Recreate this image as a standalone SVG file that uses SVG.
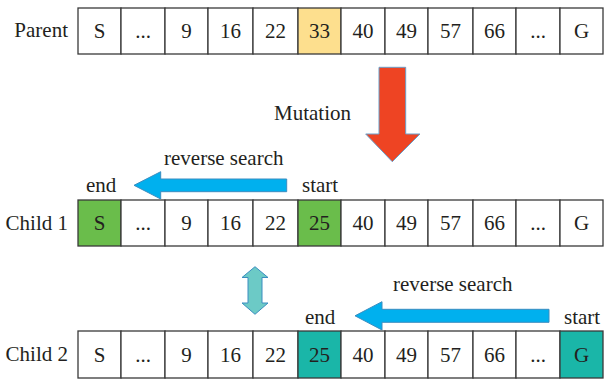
<svg xmlns="http://www.w3.org/2000/svg" width="604" height="381" viewBox="0 0 604 381">
<style>
text{font-family:"Liberation Serif","Times New Roman",serif;font-size:21px;fill:#231f20}
.c{text-anchor:middle}
.cell{fill:#fff;stroke:#3a3a3a;stroke-width:1.3}
.yel{fill:#fddf8e}
.grn{fill:#6abd4b}
.teal{fill:#1ab6a8}
.red{fill:#ee4423;stroke:#6a9ec8;stroke-width:1}
.blue{fill:#00b0ee;stroke:#3a8dc0;stroke-width:1}
.dbl{fill:#6ccac6;stroke:#3a8dc0;stroke-width:1}
</style>
<rect width="604" height="381" fill="#fff"/>

<g id="parent">
<text x="68" y="37" text-anchor="end">Parent</text>
<rect class="cell" x="78" y="8" width="43" height="46"/>
<rect class="cell" x="121" y="8" width="44" height="46"/>
<rect class="cell" x="165" y="8" width="43" height="46"/>
<rect class="cell" x="208" y="8" width="45" height="46"/>
<rect class="cell" x="253" y="8" width="45" height="46"/>
<rect class="cell yel" x="298" y="8" width="43" height="46"/>
<rect class="cell" x="341" y="8" width="44" height="46"/>
<rect class="cell" x="385" y="8" width="43" height="46"/>
<rect class="cell" x="428" y="8" width="45" height="46"/>
<rect class="cell" x="473" y="8" width="43" height="46"/>
<rect class="cell" x="516" y="8" width="44" height="46"/>
<rect class="cell" x="560" y="8" width="43" height="46"/>
<text class="c" x="99.5" y="38">S</text>
<text class="c" x="143" y="38">...</text>
<text class="c" x="186.5" y="38">9</text>
<text class="c" x="230.5" y="38">16</text>
<text class="c" x="275.5" y="38">22</text>
<text class="c" x="319.5" y="38">33</text>
<text class="c" x="363" y="38">40</text>
<text class="c" x="406.5" y="38">49</text>
<text class="c" x="450.5" y="38">57</text>
<text class="c" x="494.5" y="38">66</text>
<text class="c" x="538" y="38">...</text>
<text class="c" x="581.5" y="38">G</text>
</g>

<g id="child1">
<text x="68" y="230" text-anchor="end">Child 1</text>
<rect class="cell grn" x="78" y="200" width="43" height="46"/>
<rect class="cell" x="121" y="200" width="44" height="46"/>
<rect class="cell" x="165" y="200" width="43" height="46"/>
<rect class="cell" x="208" y="200" width="45" height="46"/>
<rect class="cell" x="253" y="200" width="45" height="46"/>
<rect class="cell grn" x="298" y="200" width="43" height="46"/>
<rect class="cell" x="341" y="200" width="44" height="46"/>
<rect class="cell" x="385" y="200" width="43" height="46"/>
<rect class="cell" x="428" y="200" width="45" height="46"/>
<rect class="cell" x="473" y="200" width="43" height="46"/>
<rect class="cell" x="516" y="200" width="44" height="46"/>
<rect class="cell" x="560" y="200" width="43" height="46"/>
<text class="c" x="99.5" y="230">S</text>
<text class="c" x="143" y="230">...</text>
<text class="c" x="186.5" y="230">9</text>
<text class="c" x="230.5" y="230">16</text>
<text class="c" x="275.5" y="230">22</text>
<text class="c" x="319.5" y="230">25</text>
<text class="c" x="363" y="230">40</text>
<text class="c" x="406.5" y="230">49</text>
<text class="c" x="450.5" y="230">57</text>
<text class="c" x="494.5" y="230">66</text>
<text class="c" x="538" y="230">...</text>
<text class="c" x="581.5" y="230">G</text>
</g>

<g id="child2">
<text x="68" y="361" text-anchor="end">Child 2</text>
<rect class="cell" x="78" y="331" width="43" height="47"/>
<rect class="cell" x="121" y="331" width="44" height="47"/>
<rect class="cell" x="165" y="331" width="43" height="47"/>
<rect class="cell" x="208" y="331" width="45" height="47"/>
<rect class="cell" x="253" y="331" width="45" height="47"/>
<rect class="cell teal" x="298" y="331" width="43" height="47"/>
<rect class="cell" x="341" y="331" width="44" height="47"/>
<rect class="cell" x="385" y="331" width="43" height="47"/>
<rect class="cell" x="428" y="331" width="45" height="47"/>
<rect class="cell" x="473" y="331" width="43" height="47"/>
<rect class="cell" x="516" y="331" width="44" height="47"/>
<rect class="cell teal" x="560" y="331" width="43" height="47"/>
<text class="c" x="99.5" y="362">S</text>
<text class="c" x="143" y="362">...</text>
<text class="c" x="186.5" y="362">9</text>
<text class="c" x="230.5" y="362">16</text>
<text class="c" x="275.5" y="362">22</text>
<text class="c" x="319.5" y="362">25</text>
<text class="c" x="363" y="362">40</text>
<text class="c" x="406.5" y="362">49</text>
<text class="c" x="450.5" y="362">57</text>
<text class="c" x="494.5" y="362">66</text>
<text class="c" x="538" y="362">...</text>
<text class="c" x="581.5" y="362">G</text>
</g>

<g id="connectors">
<path class="red" d="M379,67.3 H405.7 V134 H420 L392.3,161.7 L365.7,134 H379 Z"/>
<path class="blue" d="M286.7,179 V191.7 H160.7 V199 L134,185.3 L160.7,171.7 V179 Z"/>
<path class="blue" d="M549,309.3 V322.3 H382 V330 L355,315.8 L382,301.7 V309.3 Z"/>
<path class="dbl" d="M255,266.7 L268,277.5 H262 V303 H268 L255,314.3 L242,303 H248 V277.5 H242 Z"/>
</g>

<g id="labels">
<text x="274" y="120">Mutation</text>
<text x="164" y="165">reverse search</text>
<text x="86" y="192">end</text>
<text x="302" y="192">start</text>
<text x="393" y="291">reverse search</text>
<text x="305" y="324">end</text>
<text x="564" y="324">start</text>
</g>
</svg>
